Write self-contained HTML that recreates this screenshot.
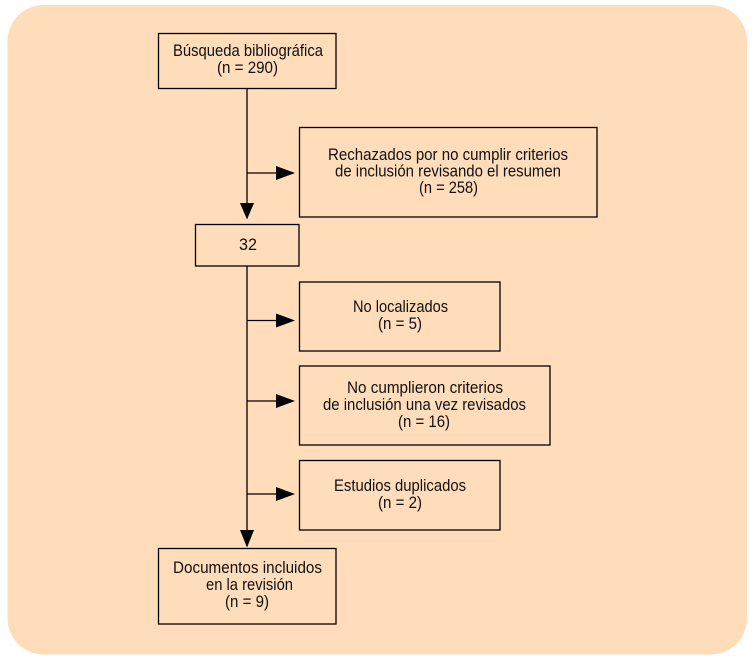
<!DOCTYPE html>
<html><head><meta charset="utf-8"><style>
html,body{margin:0;padding:0;background:#fff;}
svg{display:block;}
text{font-family:"Liberation Sans Narrow","Liberation Sans",sans-serif;font-size:16.5px;fill:#111;}
</style></head><body>
<svg width="756" height="662" viewBox="0 0 756 662" xmlns="http://www.w3.org/2000/svg">
<rect x="7.5" y="5" width="739.5" height="649.5" rx="36" ry="36" fill="#FFDDBB"/>
<g fill="none" stroke="#000" stroke-width="1.3">
<rect x="158.5" y="33.5" width="177.5" height="55"/>
<rect x="299.5" y="127.5" width="297.5" height="89.5"/>
<rect x="195.5" y="224.5" width="103.5" height="41.5"/>
<rect x="299.5" y="282" width="200.5" height="69"/>
<rect x="299.5" y="366" width="250.5" height="79"/>
<rect x="299.5" y="460.5" width="200.5" height="69.5"/>
<rect x="158.5" y="548.5" width="177.5" height="75.5"/>
<line x1="247" y1="88.5" x2="247" y2="205"/>
<line x1="247" y1="266" x2="247" y2="532"/>
<line x1="247" y1="173" x2="278" y2="173"/>
<line x1="247" y1="320.5" x2="278" y2="320.5"/>
<line x1="247" y1="401" x2="278" y2="401"/>
<line x1="247" y1="494" x2="278" y2="494"/>
</g>
<g fill="#000">
<polygon points="276,166 295,173 276,180"/>
<polygon points="276,313.5 295,320.5 276,327.5"/>
<polygon points="276,394 295,401 276,408"/>
<polygon points="276,487 295,494 276,501"/>
<polygon points="240,203 254,203 247,219.5"/>
<polygon points="240,530 254,530 247,547.5"/>
</g>
<g text-anchor="middle">
<text x="248" y="56" textLength="150" lengthAdjust="spacingAndGlyphs">Búsqueda bibliográfica</text>
<text x="247.5" y="73" textLength="61" lengthAdjust="spacingAndGlyphs">(n = 290)</text>

<text x="448" y="160" textLength="240" lengthAdjust="spacingAndGlyphs">Rechazados por no cumplir criterios</text>
<text x="448" y="176.5" textLength="226" lengthAdjust="spacingAndGlyphs">de inclusión revisando el resumen</text>
<text x="448.5" y="193" textLength="59" lengthAdjust="spacingAndGlyphs">(n = 258)</text>

<text x="248" y="250" textLength="18" lengthAdjust="spacingAndGlyphs">32</text>

<text x="400.5" y="312" textLength="95" lengthAdjust="spacingAndGlyphs">No localizados</text>
<text x="400" y="329" textLength="44" lengthAdjust="spacingAndGlyphs">(n = 5)</text>

<text x="425" y="393" textLength="156" lengthAdjust="spacingAndGlyphs">No cumplieron criterios</text>
<text x="424.5" y="410" textLength="203" lengthAdjust="spacingAndGlyphs">de inclusión una vez revisados</text>
<text x="424" y="427" textLength="52" lengthAdjust="spacingAndGlyphs">(n = 16)</text>

<text x="400" y="491" textLength="132" lengthAdjust="spacingAndGlyphs">Estudios duplicados</text>
<text x="400" y="508" textLength="44" lengthAdjust="spacingAndGlyphs">(n = 2)</text>

<text x="247.5" y="573" textLength="149" lengthAdjust="spacingAndGlyphs">Documentos incluidos</text>
<text x="249.5" y="590" textLength="87" lengthAdjust="spacingAndGlyphs">en la revisión</text>
<text x="247" y="607" textLength="44" lengthAdjust="spacingAndGlyphs">(n = 9)</text>
</g>
</svg>
</body></html>
